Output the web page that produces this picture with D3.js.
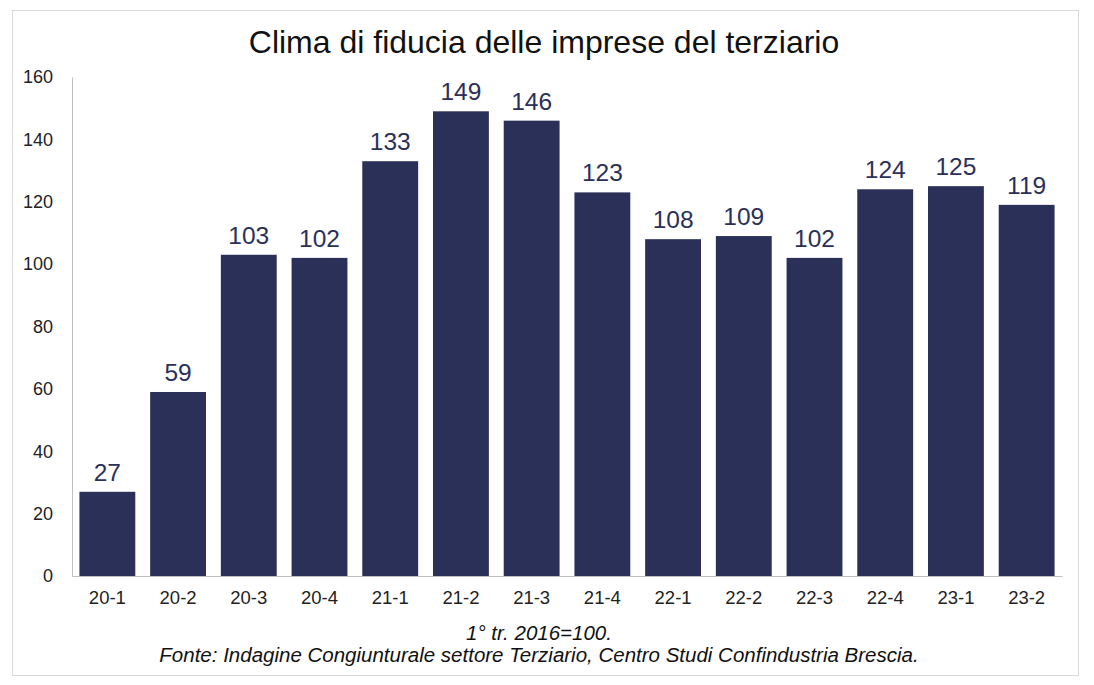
<!DOCTYPE html>
<html><head><meta charset="utf-8">
<script src="https://cdn.jsdelivr.net/npm/d3@7"></script>
<style>body{margin:0;background:#fff;}svg{display:block;font-family:"Liberation Sans",Arial,sans-serif;}</style>
</head><body><svg id="c" width="1094" height="685"></svg>
<script>
const categories = ["20-1","20-2","20-3","20-4","21-1","21-2","21-3","21-4","22-1","22-2","22-3","22-4","23-1","23-2"];
const values = [27,59,103,102,133,149,146,123,108,109,102,124,125,119];
const yTicks = [0,20,40,60,80,100,120,140,160];
const title = "Clima di fiducia delle imprese del terziario";
const notes = ["1° tr. 2016=100.","Fonte: Indagine Congiunturale settore Terziario, Centro Studi Confindustria Brescia."];

const svg = d3.select("#c");
svg.append("rect").attr("x",12.5).attr("y",10.5).attr("width",1066).attr("height",665)
  .attr("fill","#fff").attr("stroke","#d9d9d9");
const x = d3.scaleBand().domain(categories).range([72,1062]).paddingInner(0.21).paddingOuter(0.105);
const y = d3.scaleLinear().domain([0,160]).range([576,77]);
const navy = "#2b3058";

svg.append("text").attr("x",544).attr("y",53).attr("text-anchor","middle")
  .attr("font-size",32).attr("fill","#111").text(title);

const ya = svg.append("g").attr("transform","translate(72,0)")
  .call(d3.axisLeft(y).tickValues(yTicks).tickSize(0).tickPadding(19));
ya.select(".domain").attr("stroke","#bfbfbf");
ya.selectAll("text").attr("font-size",18).attr("fill","#222").attr("font-family","Liberation Sans, Arial, sans-serif");

svg.selectAll("rect.bar").data(values).join("rect").attr("class","bar")
  .attr("x",(d,i)=>x(categories[i])).attr("width",x.bandwidth())
  .attr("y",d=>y(d)).attr("height",d=>y(0)-y(d)).attr("fill",navy);

const xa = svg.append("g").attr("transform","translate(0,576)")
  .call(d3.axisBottom(x).tickSize(0).tickPadding(15));
xa.select(".domain").attr("stroke","#bfbfbf");
xa.selectAll("text").attr("font-size",18.5).attr("fill","#222").attr("font-family","Liberation Sans, Arial, sans-serif");

svg.selectAll("text.val").data(values).join("text").attr("class","val")
  .attr("x",(d,i)=>x(categories[i])+x.bandwidth()/2).attr("y",d=>y(d)-11)
  .attr("text-anchor","middle").attr("font-size",24.5).attr("fill",navy).text(d=>d);

notes.forEach((t,i)=>{
  svg.append("text").attr("x",539).attr("y",640+i*22).attr("text-anchor","middle")
    .attr("font-size",20.5).attr("font-style","italic").attr("fill","#111").text(t);
});
</script></body></html>
